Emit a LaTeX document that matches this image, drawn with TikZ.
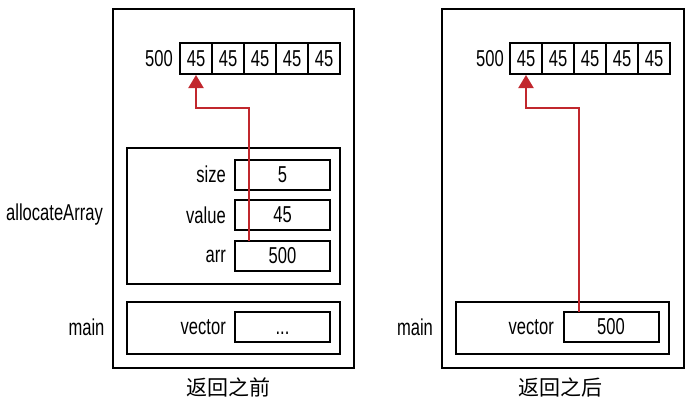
\documentclass[tikz,border=0pt]{standalone}
\usepackage{fontspec}
\setmainfont[FakeStretch=0.72]{Liberation Sans}
\newfontfamily\cjk{Noto Sans CJK SC}
\usetikzlibrary{arrows.meta}
\definecolor{ptrred}{HTML}{C1272D}
\begin{document}
\begin{tikzpicture}[x=1pt,y=-1pt,
  every node/.style={font=\fontsize{23}{27}\selectfont, inner sep=0pt},
  frame/.style={draw, line width=2.2pt, anchor=north west},
  cell/.style={draw, line width=2pt, minimum width=32pt, minimum height=31pt},
  valbox/.style={draw, line width=2pt, minimum width=95pt, minimum height=30pt},
  lbl/.style={anchor=east},
  captext/.style={font=\cjk\fontsize{21}{24}\selectfont},
  ptr/.style={draw=ptrred, line width=2pt, -{Triangle[width=15pt,length=13pt]}}
]
\useasboundingbox (0,0) rectangle (700,408);

% ---------- left panel ----------
\node[frame, minimum width=241pt, minimum height=359pt] (outerL) at (112,8) {};
\foreach \i/\x in {1/196,2/228,3/260,4/292,5/324}
  \node[cell] (L\i) at (\x,58.5) {45};
\node[lbl] (addrL) at (173,58.5) {500};

\node[frame, minimum width=213pt, minimum height=136pt] (allocF) at (126,147) {};
\node[valbox] (sizeB) at (282.5,174.5) {5};
\node[valbox] (valueB) at (282.5,215) {45};
\node[valbox] (arrB) at (282.5,256) {500};
\node[lbl] (sizeL) at (226,174.5) {size};
\node[lbl] (valueL) at (226,215) {value};
\node[lbl] (arrL) at (226,256) {arr};
\node (allocL) at (54.5,215) {allocateArray};

\node[frame, minimum width=213pt, minimum height=52pt] (mainFL) at (126,301) {};
\node[valbox] (vecBL) at (282.5,327) {\vphantom{0}...};
\node[lbl] (vecLL) at (226,327) {vector};
\node (mainLL) at (86.5,327) {main};

\node[captext] (capL) at (228,387) {返回之前};

\coordinate (startL) at (249,241);
\draw[ptr] (startL) -- (249,108) -| (L1.south);

% ---------- right panel ----------
\node[frame, minimum width=242pt, minimum height=359pt] (outerR) at (441,8) {};
\foreach \i/\x in {1/526,2/558,3/590,4/622,5/654}
  \node[cell] (R\i) at (\x,58.5) {45};
\node[lbl] (addrR) at (504,58.5) {500};

\node[frame, minimum width=213pt, minimum height=52pt] (mainFR) at (455,301) {};
\node[valbox] (vecBR) at (611,327) {500};
\node[lbl] (vecLR) at (554,327) {vector};
\node (mainLR) at (415,327) {main};

\node[captext] (capR) at (560,387) {返回之后};

\coordinate (startR) at (579,312);
\draw[ptr] (startR) -- (579,108) -| (R1.south);
\end{tikzpicture}
\end{document}
